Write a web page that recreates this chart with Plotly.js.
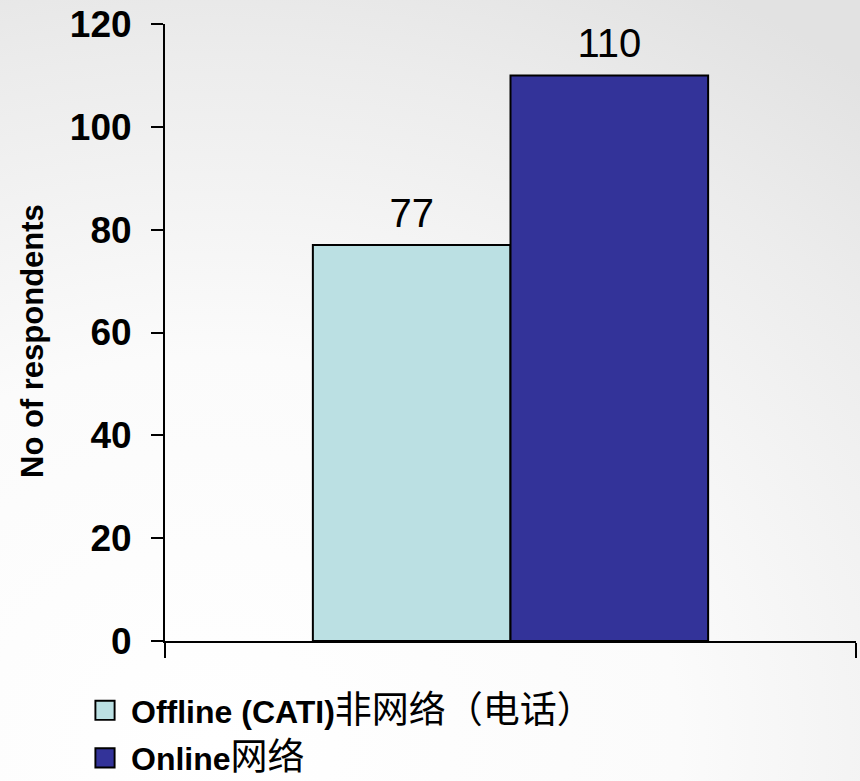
<!DOCTYPE html>
<html>
<head>
<meta charset="utf-8">
<script src="https://cdn.plot.ly/plotly-3.0.1.min.js"></script>
<style>
  html, body { margin: 0; padding: 0; }
  #chart {
    width: 860px; height: 781px;
    background: radial-gradient(ellipse 120% 110% at 25% 95%, #ffffff 0%, #fbfbfb 45%, #ececec 80%, #e2e2e2 100%);
  }
</style>
</head>
<body>
<div id="chart"></div>
<script>
// ---- data ----
const categories = ["Respondents"];
const seriesNames = [
  "<b>Offline (CATI)</b><span style='font-size:37px'>非网络（电话）</span>",
  "<b>Online</b><span style='font-size:37px'>网络</span>"
];
const offlineValues = [77];
const onlineValues = [110];
const yTickValues = [0, 20, 40, 60, 80, 100, 120];
const yAxisTitle = "No of respondents";

const colors = ["#BBE0E3", "#333399"];
const baseFont = "Liberation Sans, Arial, 'Noto Sans CJK SC', sans-serif";
const labelFont = "'Liberation Sans Narrow', 'Liberation Sans', Arial, sans-serif";

function barTrace(name, values, color, group) {
  return {
    type: "bar",
    name: name,
    x: categories,
    y: values,
    legendgroup: group,
    marker: { color: color, line: { color: "#000000", width: 2 } },
    text: values.map(String),
    textposition: "outside",
    cliponaxis: false,
    textfont: { family: labelFont, size: 40, color: "#000000" },
    hoverinfo: "y+name"
  };
}

const data = [
  barTrace(seriesNames[0], offlineValues, colors[0], "g1"),
  barTrace(seriesNames[1], onlineValues, colors[1], "g2")
];

const layout = {
  width: 860,
  height: 781,
  margin: { l: 165, r: 4, t: 24, b: 140, autoexpand: false },
  paper_bgcolor: "rgba(0,0,0,0)",
  plot_bgcolor: "rgba(0,0,0,0)",
  barmode: "group",
  bargap: 0.428,
  bargroupgap: 0,
  font: { family: baseFont, color: "#000000" },
  showlegend: true,
  legend: {
    xref: "container", yref: "container",
    x: 91 / 860, y: 1 - 683 / 781,
    xanchor: "left", yanchor: "top",
    orientation: "v",
    traceorder: "grouped",
    tracegroupgap: 3,
    bgcolor: "rgba(0,0,0,0)",
    font: { family: baseFont, size: 32, color: "#000000" }
  },
  xaxis: {
    type: "category",
    range: [-0.5, 0.5],
    showticklabels: false,
    showline: true, linecolor: "#000000", linewidth: 2,
    ticks: "outside", tickson: "boundaries", ticklen: 15, tickwidth: 2, tickcolor: "#000000",
    showgrid: false, zeroline: false, fixedrange: true
  },
  yaxis: {
    range: [0, 120],
    tickvals: yTickValues,
    ticktext: yTickValues.map(String),
    showline: true, linecolor: "#000000", linewidth: 2,
    ticks: "outside", ticklen: 12, tickwidth: 2, tickcolor: "#000000",
    ticklabelstandoff: 12,
    tickfont: { family: baseFont, size: 37, weight: "bold", color: "#000000" },
    showgrid: false, zeroline: false, fixedrange: true
  },
  annotations: [{
    text: yAxisTitle,
    xref: "paper", yref: "paper",
    x: (32 - 165) / 691, y: (641 - 341) / 617,
    xanchor: "center", yanchor: "middle",
    textangle: -90,
    showarrow: false,
    font: { family: baseFont, size: 31, weight: "bold", color: "#000000" }
  }]
};

Plotly.newPlot("chart", data, layout, { displayModeBar: false, staticPlot: true }).then(function (gd) {
  // enlarge legend swatches to match reference
  gd.querySelectorAll(".legend [clip-path]").forEach(function (el) { el.removeAttribute("clip-path"); });
  gd.querySelectorAll(".legend .legendpoints path").forEach(function (p) {
    p.setAttribute("transform", "translate(14,0) scale(1.6)");
    p.style.strokeWidth = "1.2px";
  });
  // lift bar value labels slightly
  gd.querySelectorAll(".bartext").forEach(function (g) {
    const t = g.getAttribute("transform") || "";
    g.setAttribute("transform", "translate(0,-7) " + t);
  });
});
</script>
</body>
</html>
